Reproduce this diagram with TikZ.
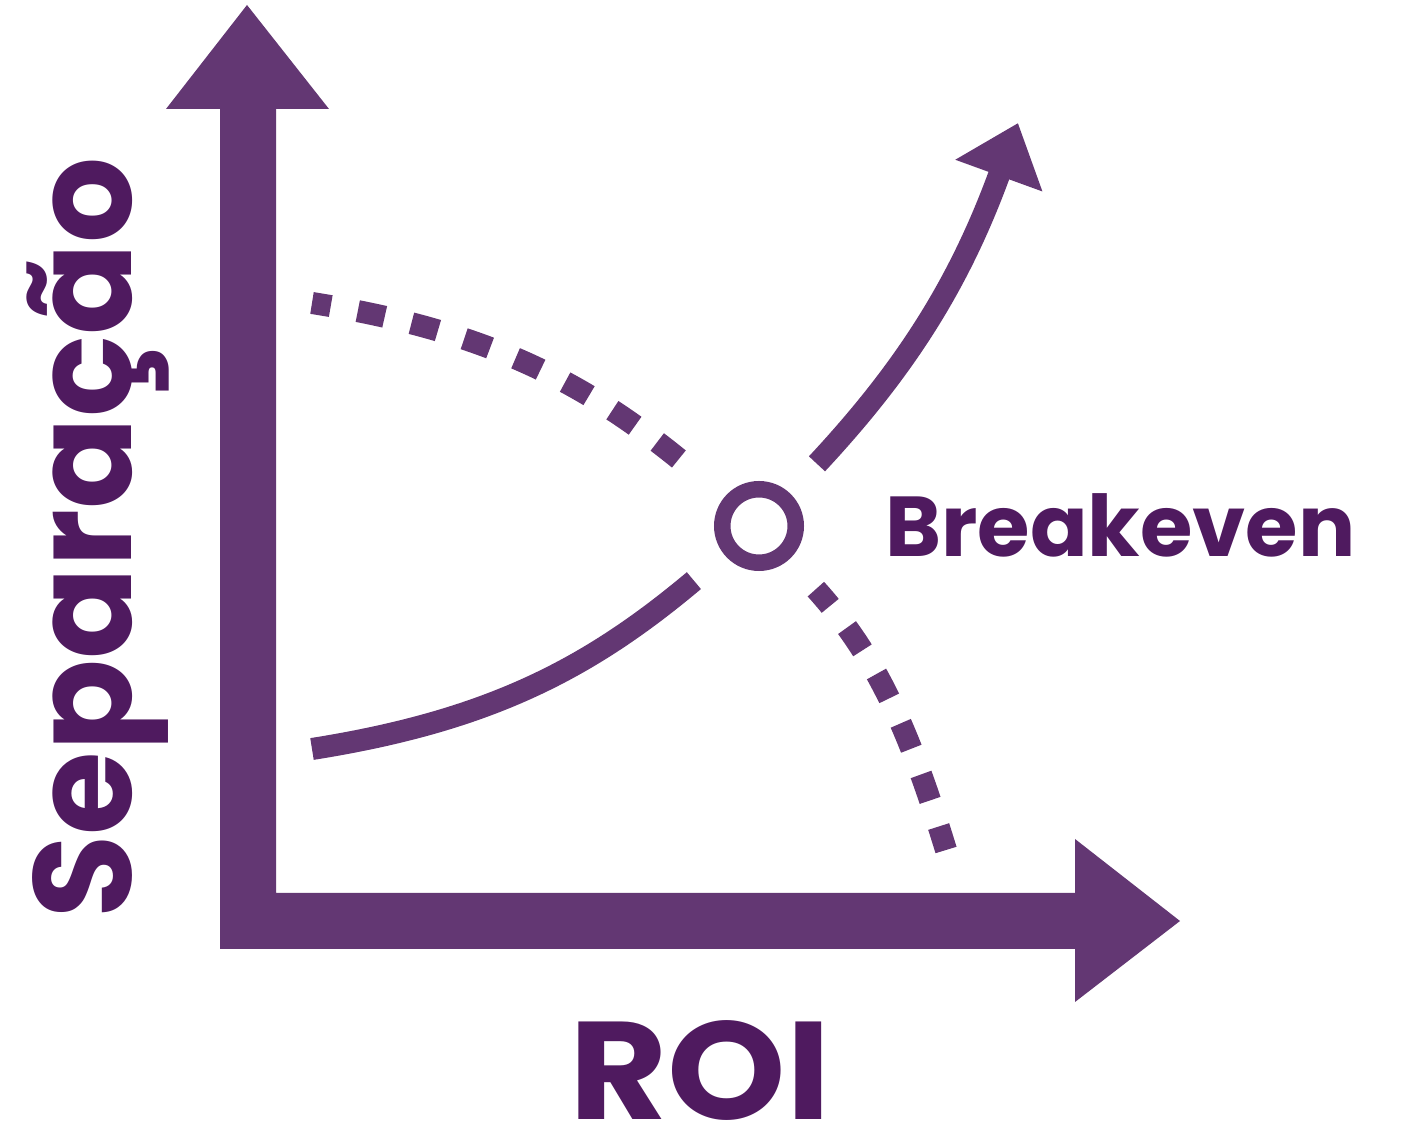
\documentclass[tikz,border=0pt]{standalone}
\usepackage{fontspec}
\setmainfont{Poppins}
\usetikzlibrary{arrows.meta}
\definecolor{roxo}{HTML}{633773}
\definecolor{roxoesc}{HTML}{4F1A5F}

\begin{document}
\begin{tikzpicture}[line cap=butt,line join=miter,x=0.5pt,y=0.5pt,
  curva/.style={color=roxo,line width=11pt},
  pontilhado/.style={curva,dash pattern=on 13.75pt off 13.75pt},
  rotulo/.style={color=roxoesc,inner sep=0pt}]
\useasboundingbox (0,0) rectangle (1404,1124);
% eixos
\fill[roxo] (220,175) -- (1075,175) -- (1075,122) -- (1180,203) -- (1075,285) -- (1075,231)
  -- (276,231) -- (276,1015) -- (329,1015) -- (247,1119) -- (166,1015) -- (220,1015) -- cycle;
% ponto de equilibrio
\node[draw=roxo,circle,line width=8.25pt,minimum size=36.75pt,inner sep=0pt] (be) at (759,598) {};
\coordinate (cini) at (312,375);
\coordinate (cfim) at (1018,1001);
\coordinate (pini) at (312,821);
\coordinate (pfim) at (946,274);
% curvas
\draw[curva,shorten >=20pt] (cini) to[out=9,in=220] (be);
\draw[curva,shorten <=20pt,-{Triangle[length=28pt,width=44.5pt]}] (be) to[out=47,in=250] (cfim);
\draw[pontilhado,dash phase=4.25pt,shorten >=20pt] (pini) to[out=-9,in=140] (be);
\draw[pontilhado,dash phase=2.75pt,shorten <=20pt] (be) to[out=-48,in=107] (pfim);
% textos
\node[rotulo,font=\bfseries\fontsize{42.5}{42.5}\selectfont,anchor=base west] (breakeven) at (885,567) {Breakeven};
\node[rotulo,font=\bfseries\fontsize{69.5}{69.5}\selectfont,text depth=0pt,anchor=base] (roi) at (700,4) {\scalebox{1.085}[1]{ROI}};
\node[rotulo,font=\bfseries\fontsize{69.5}{69.5}\selectfont,rotate=90,anchor=base] (sep) at (131,586) {\scalebox{0.975}[1]{Separação}};
\end{tikzpicture}
\end{document}
